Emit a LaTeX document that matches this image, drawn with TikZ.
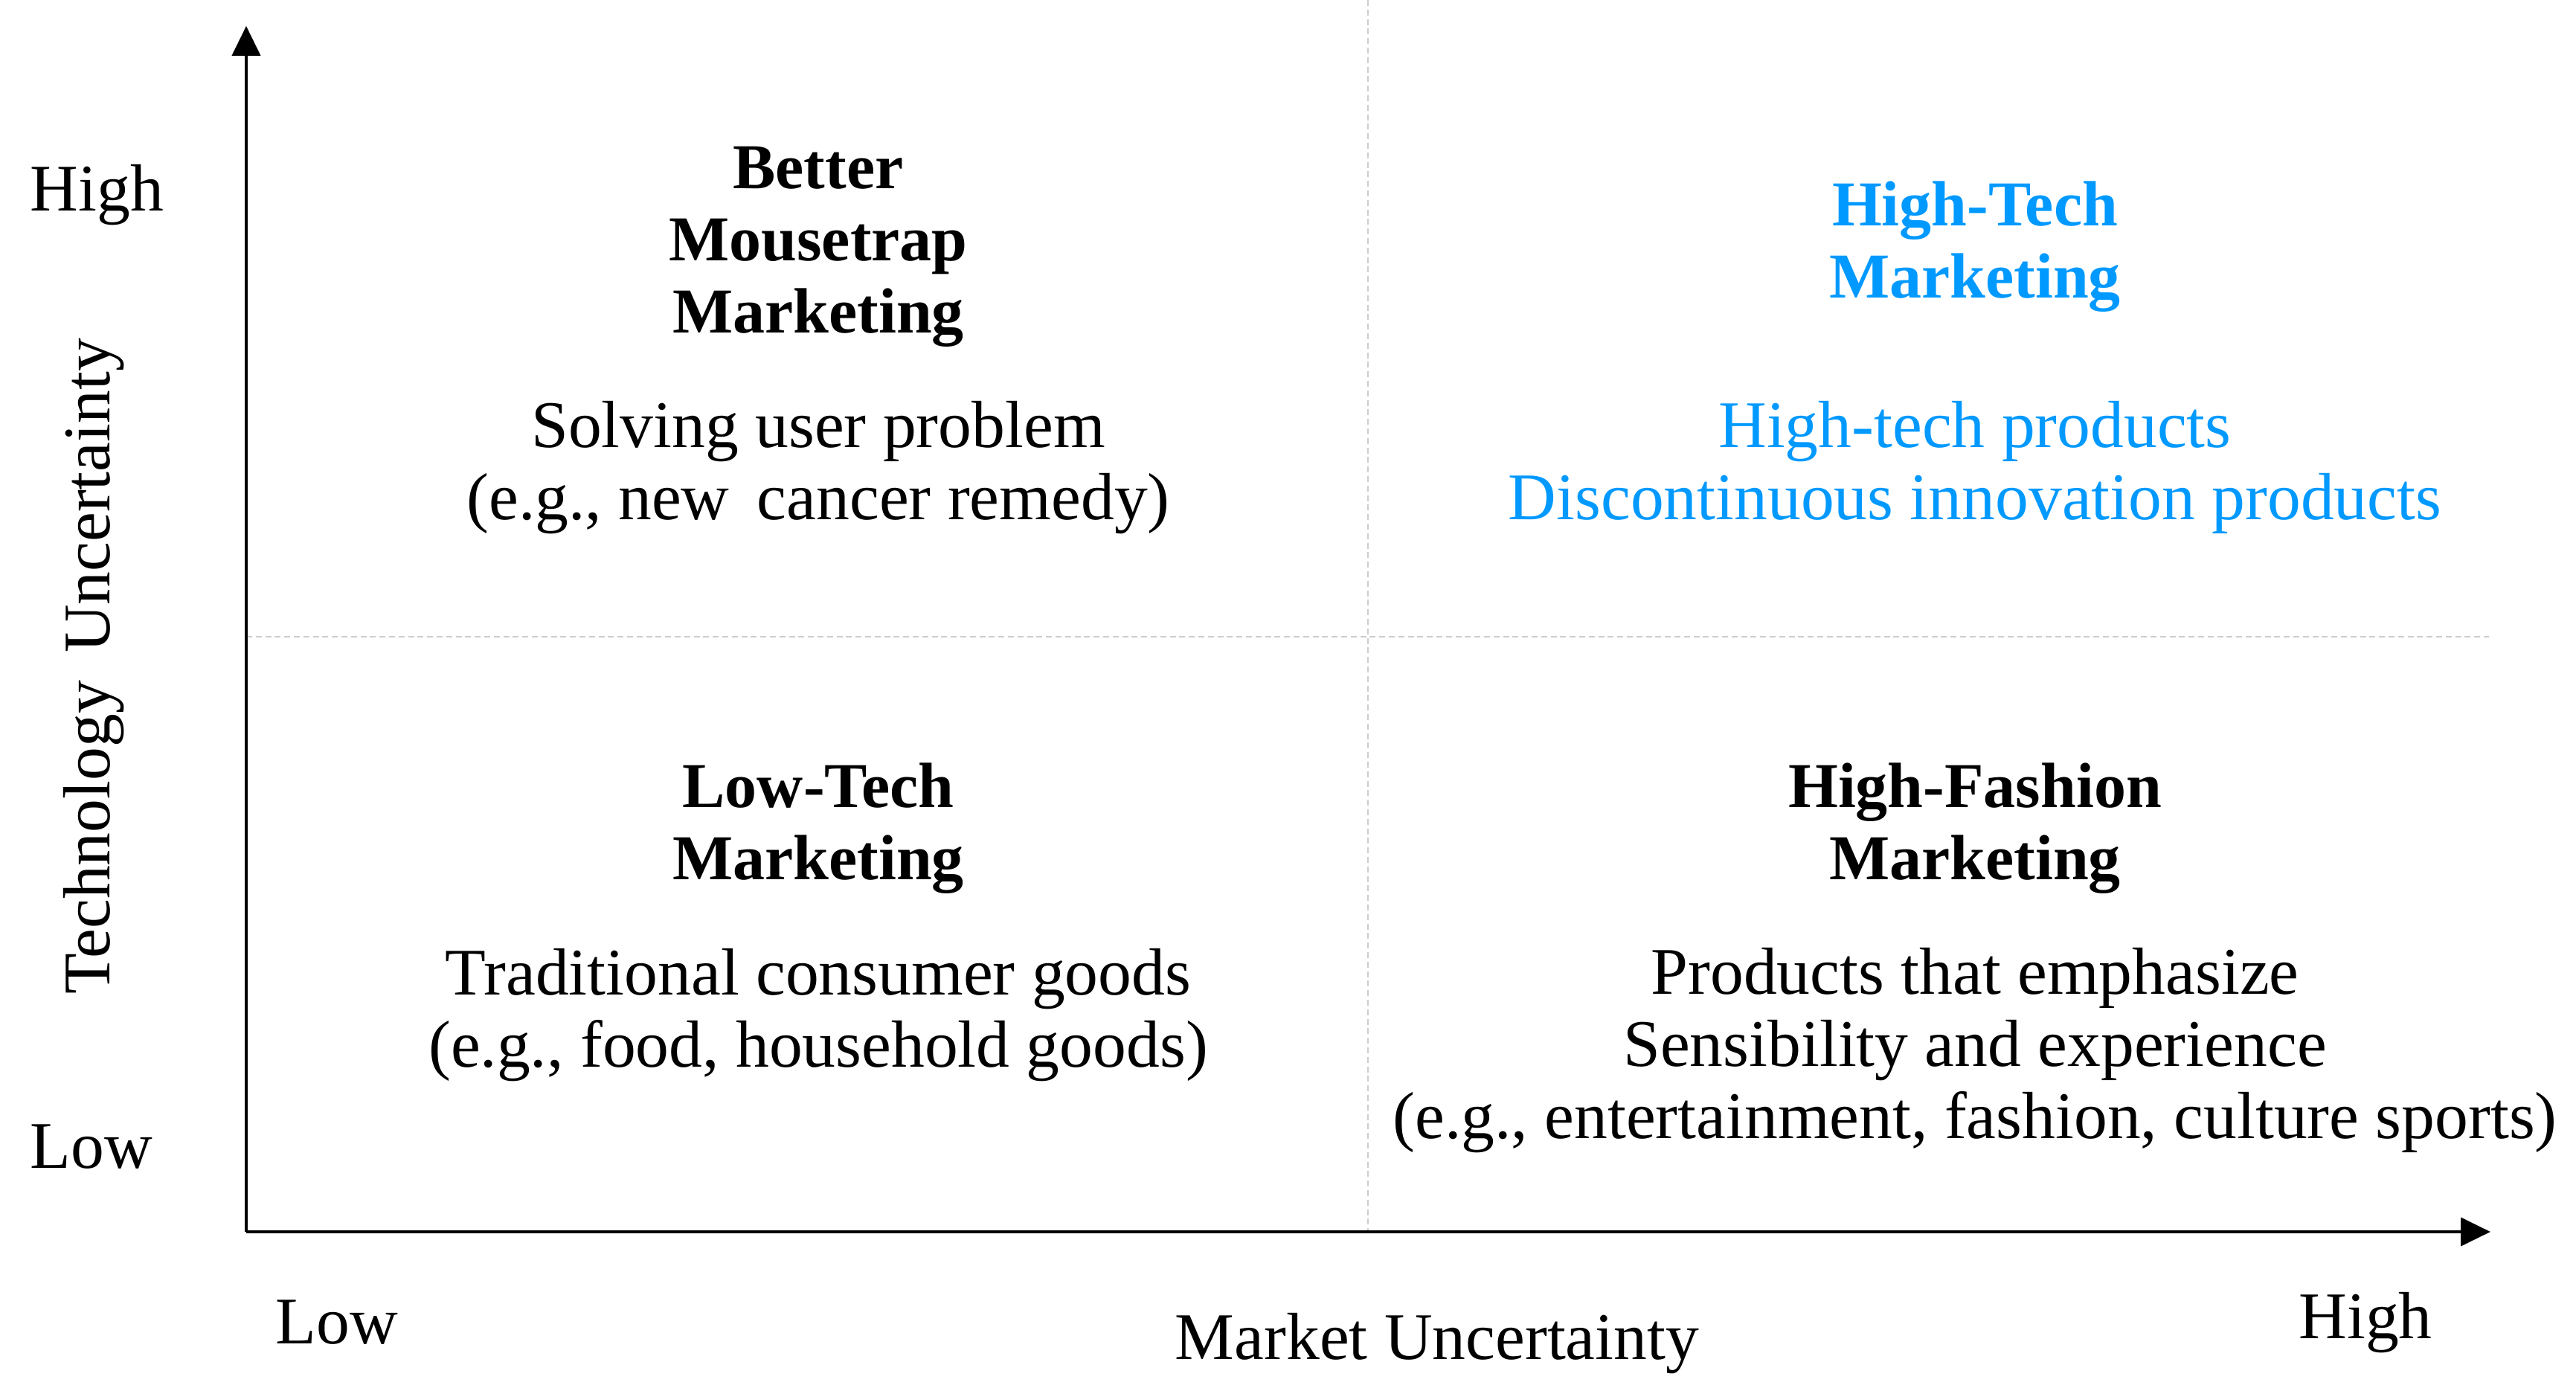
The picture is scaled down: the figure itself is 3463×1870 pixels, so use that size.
\documentclass[tikz,border=0pt]{standalone}
\usepackage{fontspec}
\setmainfont{Liberation Serif}
\usetikzlibrary{arrows.meta}
\definecolor{hiblue}{RGB}{0,153,255}
\definecolor{gridgray}{RGB}{205,205,205}
\tikzset{
  axisline/.style={line width=1.1pt, -{Triangle[length=10pt,width=9.5pt]}},
  gridline/.style={gridgray, line width=0.5pt, dash pattern=on 2pt off 1.2pt},
  txt/.style={font=\fontsize{22.4}{24.25}\selectfont, align=center, inner sep=0pt},
  hd/.style={txt, font=\fontsize{21.5}{24.25}\selectfont\bfseries},
}
\begin{document}
\begin{tikzpicture}[x=0.25pt, y=-0.25pt]
\useasboundingbox (0,0) rectangle (3463,1870);
% coordinates
\coordinate (O) at (331,1656);
\coordinate (ytop) at (331,35);
\coordinate (xend) at (3348,1656);
\coordinate (vt) at (1839,0);
\coordinate (vb) at (1839,1656);
\coordinate (hl) at (331,856);
\coordinate (hr) at (3346,856);
% grid
\draw[gridline] (vt) -- (vb);
\draw[gridline] (hl) -- (hr);
% axes
\draw[axisline] (O) -- (ytop);
\draw[axisline] (O) -- (xend);
% axis labels
\node[txt, anchor=west] (yhigh) at (40,262) {High};
\node[txt, anchor=west] (ylow) at (40,1542) {Low};
\node[txt, rotate=90] (ylab) at (126,896) {Technology\, Uncertainty};
\node[txt] (xlow) at (453,1778) {Low};
\node[txt] (xhigh) at (3180,1778) {High};
\node[txt] (xlab) at (1932,1806) {Market Uncertainty};
% quadrant top-left
\node[hd] (tlh) at (1100,332) {Better\\Mousetrap\\Marketing};
\node[txt] (tlb) at (1100,629) {Solving user problem\\(e.g., new\, cancer remedy)};
% quadrant top-right
\node[hd, text=hiblue] (trh) at (2655,332) {High-Tech\\Marketing};
\node[txt, text=hiblue] (trb) at (2655,628) {High-tech products\\Discontinuous innovation products};
% quadrant bottom-left
\node[hd] (blh) at (1100,1114) {Low-Tech\\Marketing};
\node[txt] (blb) at (1100,1365) {Traditional consumer goods\\(e.g., food, household goods)};
% quadrant bottom-right
\node[hd] (brh) at (2655,1114) {High-Fashion\\Marketing};
\node[txt] (brb) at (2655,1412) {Products that emphasize\\Sensibility and experience\\(e.g., entertainment, fashion, culture sports)};
\end{tikzpicture}
\end{document}
